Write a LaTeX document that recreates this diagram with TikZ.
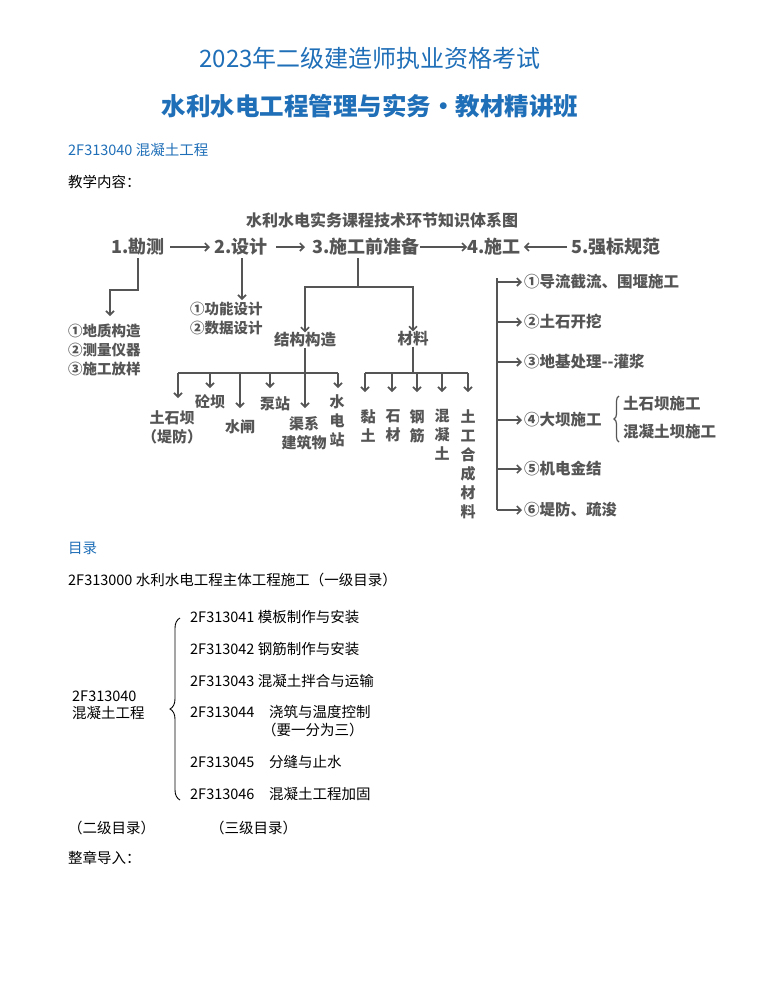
\documentclass[tikz,border=0pt]{standalone}
\usepackage{fontspec}
\setmainfont{Noto Sans CJK SC}
\usetikzlibrary{arrows.meta,decorations.pathreplacing}
\definecolor{titleblue}{HTML}{1F6FB8}
\definecolor{diagray}{HTML}{555555}
\begin{document}
\begin{tikzpicture}[x=1pt,y=-1pt,
	txt/.style={anchor=west,inner sep=0pt,font=\fontsize{14.5}{17}\selectfont},
	dg/.style={inner sep=0pt,text=diagray,font=\fontsize{15.5}{18}\selectfont\bfseries},
	top/.style={dg,font=\fontsize{18}{20}\selectfont\bfseries},
	dgv/.style={dg,align=center,anchor=north,font=\fontsize{15}{19}\selectfont\bfseries},
	ln/.style={draw=diagray,line width=1.6pt},
	ar/.style={ln,-{Straight Barb[length=4pt,width=8pt]}}]
	\useasboundingbox (0,0) rectangle (773,986);
	\fill[white] (0,0) rectangle (773,986);
	
	% header
	\node[inner sep=0pt,text=titleblue,font=\fontsize{24}{26}\selectfont] (t1) at (370,58) {2023年二级建造师执业资格考试};
	\node[inner sep=0pt,text=titleblue,font=\fontsize{24.5}{27}\selectfont\bfseries] (t2) at (370,106) {水利水电工程管理与实务·教材精讲班};
	\node[txt,text=titleblue] (sec) at (68,150) {2F313040 混凝土工程};
	\node[txt] (teach) at (68,182) {教学内容：};
	
	% diagram
	\node[dg,font=\fontsize{16}{18}\selectfont\bfseries] (dtitle) at (382,220) {水利水电实务课程技术环节知识体系图};
	\node[top] (s1) at (138,247) {1.勘测};
	\node[top] (s2) at (241,247) {2.设计};
	\node[top] (s3) at (366,247) {3.施工前准备};
	\node[top] (s4) at (494,247) {4.施工};
	\node[top] (s5) at (616,247) {5.强标规范};
	\draw[ar] (170,247) -- (210,247);
	\draw[ar] (276,247) -- (305,247);
	\draw[ar] (s3.east) -- (s4.west);
	\draw[ar] (s5.west) ++(-4,0) -- ([xshift=3pt]s4.east);
	
	% survey
	\coordinate (k1) at (110,316);
	\draw[ar] (138,258) -- (138,290) -- (110,290) -- (k1);
	\node[dg,anchor=west,align=left,font=\fontsize{14.5}{19}\selectfont\bfseries] (klist) at (68,350) {①地质构造\\②测量仪器\\③施工放样};
	% design
	\coordinate (d1) at (242,300);
	\draw[ar] (242,258) -- (d1);
	\node[dg,anchor=north west,align=left,font=\fontsize{14.5}{19}\selectfont\bfseries] (dlist) at (190,302) {①功能设计\\②数据设计};
	% preparation
	\node[dg] (jg) at (305,340) {结构构造};
	\node[dg] (cl) at (413,339) {材料};
	\draw[ln] (358,258) -- (358,287);
	\draw[ar] (358,287) -- (305,287) -- (jg.north);
	\draw[ar] (358,287) -- (413,287) -- (cl.north);
	\draw[ln] (jg.south) -- (305,373);
	\draw[ln] (178,373) -- (338,373);
	\foreach \x/\y in {178/398,210/388,240/408,270/388,305/408,338/388}
	\draw[ar] (\x,373) -- (\x,\y);
	\node[dgv] (tsb) at (172,410) {土石坝\\（堤防）};
	\node[dgv] (tb) at (210,394) {砼坝};
	\node[dgv] (sz) at (240,419) {水闸};
	\node[dgv] (bz) at (275,396) {泵站};
	\node[dgv] (qx) at (304,416) {渠系\\建筑物};
	\node[dgv] (sdz) at (337,394) {水\\电\\站};
	\draw[ln] (cl.south) -- (413,373);
	\draw[ln] (365,373) -- (468,373);
	\foreach \x in {365,392,417,442,468}
	\draw[ar] (\x,373) -- (\x,392);
	\node[dgv] (nt) at (368,409) {黏\\土};
	\node[dgv] (sc) at (393,409) {石\\材};
	\node[dgv] (gj) at (417,409) {钢\\筋};
	\node[dgv] (hnt) at (442,409) {混\\凝\\土};
	\node[dgv] (tg) at (468,409) {土\\工\\合\\成\\材\\料};
	% construction
	\draw[ln] (497,278) -- (497,510);
	\node[dg,anchor=west] (c1) at (524,282) {①导流截流、围堰施工};
	\node[dg,anchor=west] (c2) at (524,322) {②土石开挖};
	\node[dg,anchor=west] (c3) at (524,362) {③地基处理{-}{-}灌浆};
	\node[dg,anchor=west] (c4) at (524,420) {④大坝施工};
	\node[dg,anchor=west] (c5) at (524,469) {⑤机电金结};
	\node[dg,anchor=west] (c6) at (524,510) {⑥堤防、疏浚};
	\foreach \c in {c1,c2,c3,c4,c5,c6}
	\draw[ar] (497,0 |- \c.west) -- ([xshift=-2pt]\c.west);
	\draw[diagray,line width=1.2pt,decorate,decoration={brace,amplitude=5pt,mirror}] (619,396) -- (619,442);
	\node[dg,anchor=west] (c41) at (623,404) {土石坝施工};
	\node[dg,anchor=west] (c42) at (623,432) {混凝土坝施工};
	
	% contents
	\node[txt,text=titleblue] (ml) at (68,548) {目录};
	\node[txt] (lv1) at (68,580) {2F313000 水利水电工程主体工程施工（一级目录）};
	\node[txt,align=left,anchor=west] (lv2) at (72,705) {2F313040\\混凝土工程};
	\draw[line width=0.9pt,decorate,decoration={brace,amplitude=10pt}] (180,800) -- (180,618);
	\node[txt] (e1) at (190,617) {2F313041 模板制作与安装};
	\node[txt] (e2) at (190,649) {2F313042 钢筋制作与安装};
	\node[txt] (e3) at (190,681) {2F313043 混凝土拌合与运输};
	\node[txt] (e4) at (190,712) {2F313044\quad 浇筑与温度控制};
	\node[txt] (e4b) at (262,730) {（要一分为三）};
	\node[txt] (e5) at (190,762) {2F313045\quad 分缝与止水};
	\node[txt] (e6) at (190,794) {2F313046\quad 混凝土工程加固};
	\node[txt] (l2) at (68,828) {（二级目录）};
	\node[txt] (l3) at (210,828) {（三级目录）};
	\node[txt] (intro) at (68,858) {整章导入：};
\end{tikzpicture}
\end{document}
